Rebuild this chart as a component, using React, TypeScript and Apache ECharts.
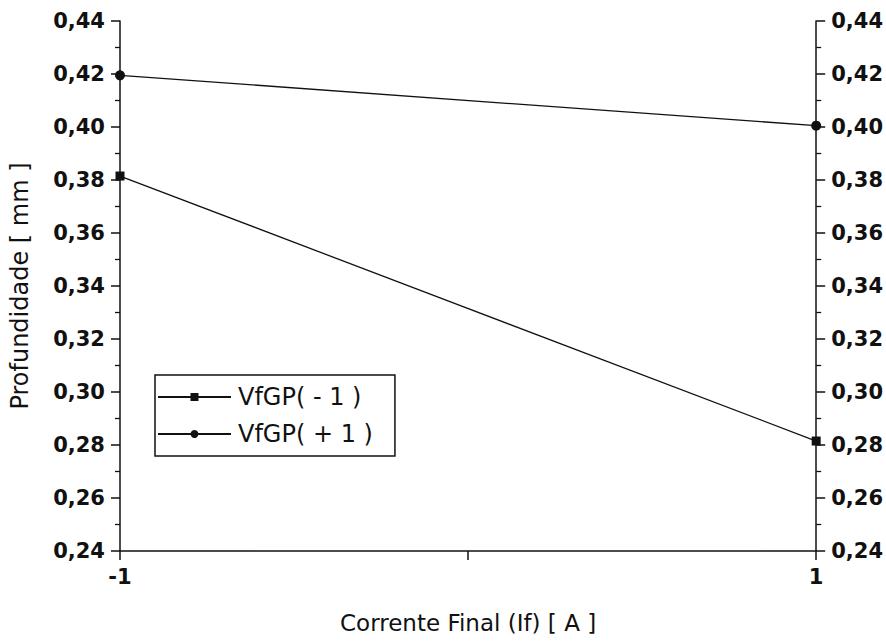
import React, { useEffect, useRef } from "react";
import * as echarts from "echarts";

const xValues = [-1, 1];
const seriesNames = ["VfGP( - 1 )", "VfGP( + 1 )"];
const vfgpMinus = [0.3815, 0.2815];
const vfgpPlus = [0.4195, 0.4005];
const xTitle = "Corrente Final (If) [ A ]";
const yTitle = "Profundidade [ mm ]";

const FONT = "'DejaVu Sans', Arial, sans-serif";

export default function App() {
  const ref = useRef<HTMLDivElement>(null);
  useEffect(() => {
    if (!ref.current) return;
    const chart = echarts.init(ref.current, undefined, { renderer: "svg" });
    const fmtY = (v: number) => v.toFixed(2).replace(".", ",");
    const yCommon = {
      type: "value" as const,
      min: 0.24,
      max: 0.44,
      interval: 0.02,
      splitLine: { show: false },
      axisLine: { show: true, onZero: false, lineStyle: { color: "#111", width: 1.5 } },
      axisTick: { show: true, inside: false, length: 9, lineStyle: { color: "#111", width: 1.5 } },
      minorTick: { show: true, splitNumber: 2, length: 5, lineStyle: { color: "#111", width: 1.3 } },
      axisLabel: {
        formatter: fmtY,
        fontFamily: FONT,
        fontSize: 21,
        fontWeight: "bold" as const,
        color: "#111",
        margin: 15,
      },
    };
    chart.setOption({
      animation: false,
      backgroundColor: "#fff",
      grid: { left: 120, right: 69, top: 21, bottom: 92, containLabel: false },
      legend: {
        orient: "vertical",
        left: 155,
        top: 375,
        data: seriesNames,
        borderColor: "#111",
        borderWidth: 1.5,
        padding: [10, 22, 10, 2],
        itemWidth: 73,
        itemHeight: 10,
        itemGap: 13,
        textStyle: { fontFamily: FONT, fontSize: 24, color: "#111", padding: [0, 0, 0, 2] },
      },
      xAxis: {
        type: "value",
        min: -1,
        max: 1,
        interval: 1,
        name: xTitle,
        nameLocation: "middle",
        nameGap: 60,
        nameTextStyle: { fontFamily: FONT, fontSize: 23, color: "#111" },
        splitLine: { show: false },
        axisLine: { show: true, onZero: false, lineStyle: { color: "#111", width: 1.5 } },
        axisTick: { show: true, inside: false, length: 9, lineStyle: { color: "#111", width: 1.5 } },
        axisLabel: {
          formatter: (v: number) => (v === 0 ? "" : String(v)),
          fontFamily: FONT,
          fontSize: 21,
          fontWeight: "bold",
          color: "#111",
          margin: 15,
        },
      },
      yAxis: [
        {
          ...yCommon,
          position: "left",
          name: yTitle,
          nameLocation: "middle",
          nameGap: 88,
          nameTextStyle: { fontFamily: FONT, fontSize: 24, color: "#111" },
        },
        { ...yCommon, position: "right" },
      ],
      series: [
        {
          name: seriesNames[0],
          type: "line",
          data: xValues.map((x, i) => [x, vfgpMinus[i]]),
          symbol: "rect",
          symbolSize: 9,
          clip: false,
          lineStyle: { color: "#111", width: 1.3 },
          itemStyle: { color: "#111" },
        },
        {
          name: seriesNames[1],
          type: "line",
          data: xValues.map((x, i) => [x, vfgpPlus[i]]),
          symbol: "circle",
          symbolSize: 10,
          clip: false,
          lineStyle: { color: "#111", width: 1.3 },
          itemStyle: { color: "#111" },
        },
      ],
    });
    return () => chart.dispose();
  }, []);
  return (
    <div
      ref={ref}
      style={{ position: "fixed", left: 0, top: 0, width: 886, height: 643, background: "#fff" }}
    />
  );
}
